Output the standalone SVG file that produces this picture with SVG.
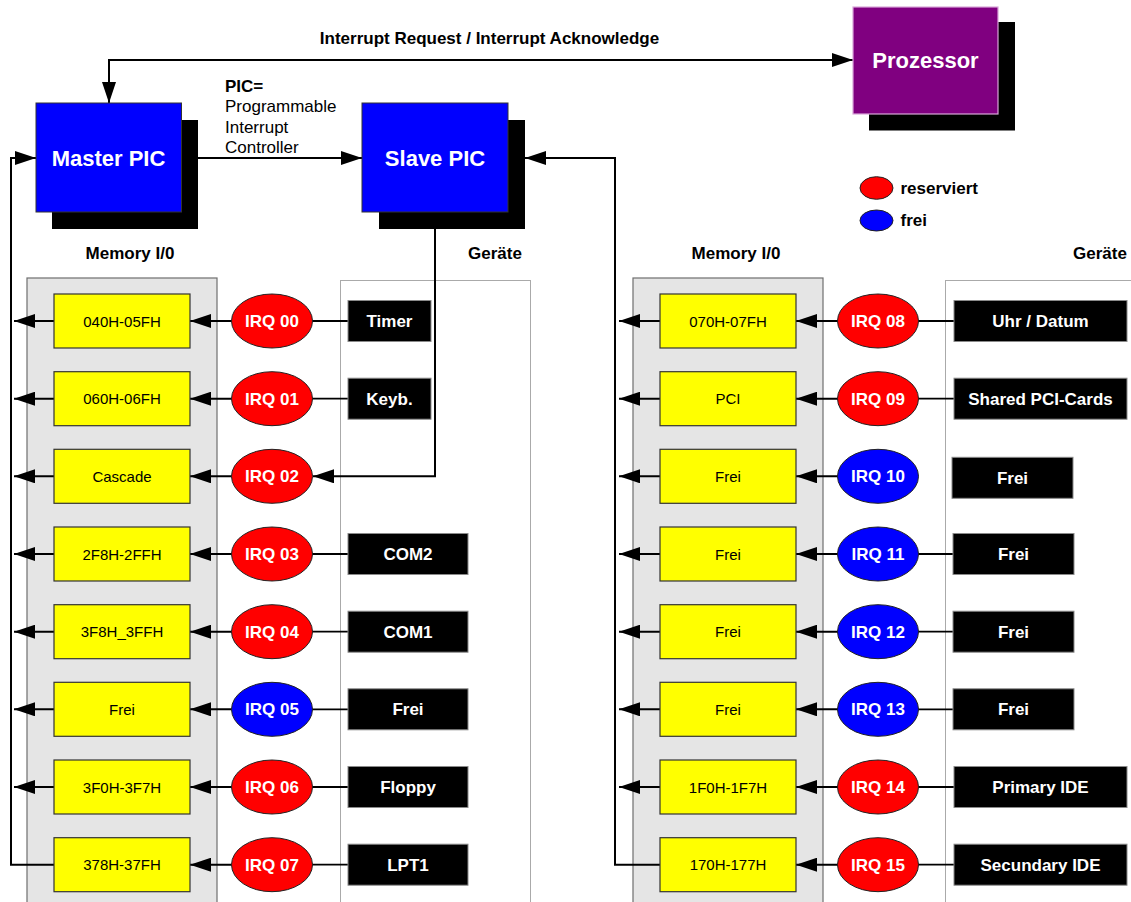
<svg xmlns="http://www.w3.org/2000/svg" width="1131" height="902" viewBox="0 0 1131 902">
  <style>
    text { font-family: "Liberation Sans", Arial, sans-serif; }
    .hdr { font-size: 17px; font-weight: bold; fill: #000; text-anchor: middle; }
    .big { font-size: 22px; font-weight: bold; fill: #fff; text-anchor: middle; }
    .note { font-size: 17px; fill: #000; }
    .mem { fill: #ffff00; stroke: #333; stroke-width: 1.2; }
    .memt { font-size: 15px; fill: #000; text-anchor: middle; }
    .irq { stroke: #222; stroke-width: 1; }
    .red { fill: #ff0000; }
    .blue { fill: #0000ff; }
    .irqt { font-size: 17px; font-weight: bold; fill: #fff; text-anchor: middle; }
    .dev { fill: #000; stroke: #8a8a8a; stroke-width: 1; }
    .devt { font-size: 17px; font-weight: bold; fill: #fff; text-anchor: middle; }
    .panel { fill: #e5e5e5; stroke: #6e6e6e; stroke-width: 1.2; }
    .zone { fill: none; stroke: #555; stroke-width: 1; stroke-dasharray: 1 1; }
    .shadow { fill: #000; }
    .pic { fill: #0000ff; stroke: #333; stroke-width: 1; }
    .cpu { fill: #800080; stroke: #d9a6d9; stroke-width: 1.2; }
    .wire { fill: none; stroke: #000; stroke-width: 2; }
    .arrow { fill: none; stroke: #000; stroke-width: 2; marker-end: url(#head); }
    .link { fill: none; stroke: #000; stroke-width: 1.8; }
  </style>
  <defs>
    <marker id="head" markerUnits="userSpaceOnUse" markerWidth="21" markerHeight="14" refX="21" refY="7" orient="auto-start-reverse">
      <path d="M0,0 L21,7 L0,14 z" fill="#000"/>
    </marker>
  </defs>

  <rect width="1131" height="902" fill="#fff"/>

  <!-- background panels: memory ranges (grey) and device zones (dotted) -->
  <g id="panels">
    <rect class="panel" x="27" y="278" width="190" height="640"/>
    <rect class="zone" x="340.5" y="280.5" width="190" height="640"/>
    <rect class="panel" x="633" y="278" width="190" height="640"/>
    <rect class="zone" x="945.5" y="280.5" width="200" height="640"/>
    <text class="hdr" x="130" y="259">Memory I/0</text>
    <text class="hdr" x="495" y="259">Geräte</text>
    <text class="hdr" x="736" y="259">Memory I/0</text>
    <text class="hdr" x="1100" y="259">Geräte</text>
  </g>

  <!-- connectors -->
  <g id="connectors">
    <!-- interrupt request / acknowledge between master PIC and processor -->
    <path class="wire" d="M109,103 L109,60 L853,60" marker-start="url(#head)" marker-end="url(#head)"/>
    <!-- master -> slave -->
    <path class="arrow" d="M198,158 L362,158"/>
    <!-- left bus into master -->
    <path class="arrow" d="M54,864.7 L11,864.7 L11,158 L36,158"/>
    <!-- right bus into slave -->
    <path class="arrow" d="M660,864.7 L615,864.7 L615,158 L525,158"/>
    <!-- cascade from slave to IRQ 02 -->
    <path class="arrow" d="M435,229 L435,476.3 L313,476.3"/>

    <!-- memory box -> bus (left) -->
    <path class="arrow" d="M54,321 L14,321"/>
    <path class="arrow" d="M54,398.7 L14,398.7"/>
    <path class="arrow" d="M54,476.3 L14,476.3"/>
    <path class="arrow" d="M54,554 L14,554"/>
    <path class="arrow" d="M54,631.7 L14,631.7"/>
    <path class="arrow" d="M54,709.3 L14,709.3"/>
    <path class="arrow" d="M54,787 L14,787"/>
    <!-- memory box -> bus (right) -->
    <path class="arrow" d="M660,321 L619,321"/>
    <path class="arrow" d="M660,398.7 L619,398.7"/>
    <path class="arrow" d="M660,476.3 L619,476.3"/>
    <path class="arrow" d="M660,554 L619,554"/>
    <path class="arrow" d="M660,631.7 L619,631.7"/>
    <path class="arrow" d="M660,709.3 L619,709.3"/>
    <path class="arrow" d="M660,787 L619,787"/>

    <!-- IRQ -> memory box (left) -->
    <path class="arrow" d="M232,321 L190,321"/>
    <path class="arrow" d="M232,398.7 L190,398.7"/>
    <path class="arrow" d="M232,476.3 L190,476.3"/>
    <path class="arrow" d="M232,554 L190,554"/>
    <path class="arrow" d="M232,631.7 L190,631.7"/>
    <path class="arrow" d="M232,709.3 L190,709.3"/>
    <path class="arrow" d="M232,787 L190,787"/>
    <path class="arrow" d="M232,864.7 L190,864.7"/>
    <!-- IRQ -> memory box (right) -->
    <path class="arrow" d="M838,321 L796,321"/>
    <path class="arrow" d="M838,398.7 L796,398.7"/>
    <path class="arrow" d="M838,476.3 L796,476.3"/>
    <path class="arrow" d="M838,554 L796,554"/>
    <path class="arrow" d="M838,631.7 L796,631.7"/>
    <path class="arrow" d="M838,709.3 L796,709.3"/>
    <path class="arrow" d="M838,787 L796,787"/>
    <path class="arrow" d="M838,864.7 L796,864.7"/>

    <!-- device -> IRQ (left) -->
    <path class="link" d="M312,321 L348,321"/>
    <path class="link" d="M312,398.7 L348,398.7"/>
    <path class="link" d="M312,554 L348,554"/>
    <path class="link" d="M312,631.7 L348,631.7"/>
    <path class="link" d="M312,709.3 L348,709.3"/>
    <path class="link" d="M312,787 L348,787"/>
    <path class="link" d="M312,864.7 L348,864.7"/>
    <!-- device -> IRQ (right) -->
    <path class="link" d="M918,321 L954,321"/>
    <path class="link" d="M918,398.7 L954,398.7"/>
    <path class="link" d="M918,554 L953,554"/>
    <path class="link" d="M918,631.7 L953,631.7"/>
    <path class="link" d="M918,709.3 L953,709.3"/>
    <path class="link" d="M918,787 L954,787"/>
    <path class="link" d="M918,864.7 L954,864.7"/>
  </g>

  <!-- controllers and processor -->
  <g id="master-pic">
    <rect class="shadow" x="52" y="120" width="146" height="109"/>
    <rect class="pic" x="36" y="103" width="145.5" height="109"/>
    <text class="big" x="108.5" y="165.5">Master PIC</text>
  </g>
  <g id="slave-pic">
    <rect class="shadow" x="379" y="120" width="146" height="109"/>
    <rect class="pic" x="362" y="103" width="146" height="109"/>
    <text class="big" x="435" y="165.5">Slave PIC</text>
  </g>
  <g id="prozessor">
    <rect class="shadow" x="869" y="22" width="146" height="108.5"/>
    <rect class="cpu" x="853" y="7" width="145" height="107"/>
    <text class="big" x="925.5" y="68">Prozessor</text>
  </g>

  <g id="labels">
    <text class="hdr" x="489.5" y="44">Interrupt Request / Interrupt Acknowledge</text>
    <text class="note" x="225" y="92" font-weight="bold">PIC=</text>
    <text class="note" x="225" y="112">Programmable</text>
    <text class="note" x="225" y="132.5">Interrupt</text>
    <text class="note" x="225" y="153">Controller</text>
  </g>

  <g id="legend">
    <ellipse class="irq red" cx="876.5" cy="188" rx="16.5" ry="11.3"/>
    <text x="900.5" y="193.5" font-size="17" font-weight="bold">reserviert</text>
    <ellipse class="irq blue" cx="876.5" cy="220.5" rx="16.5" ry="10.5"/>
    <text x="900.5" y="226" font-size="17" font-weight="bold">frei</text>
  </g>

  <!-- IRQ lines 0-7 (master) -->
  <g id="irq00">
    <rect class="mem" x="54" y="294" width="136" height="54"/><text class="memt" x="122" y="326.5">040H-05FH</text>
    <ellipse class="irq red" cx="272" cy="321" rx="40.5" ry="27"/><text class="irqt" x="272" y="327">IRQ 00</text>
    <rect class="dev" x="348" y="300.5" width="83" height="41"/><text class="devt" x="389.5" y="327">Timer</text>
  </g>
  <g id="irq01">
    <rect class="mem" x="54" y="371.7" width="136" height="54"/><text class="memt" x="122" y="404.2">060H-06FH</text>
    <ellipse class="irq red" cx="272" cy="398.7" rx="40.5" ry="27"/><text class="irqt" x="272" y="404.7">IRQ 01</text>
    <rect class="dev" x="348" y="378.2" width="83" height="41"/><text class="devt" x="389.5" y="404.7">Keyb.</text>
  </g>
  <g id="irq02">
    <rect class="mem" x="54" y="449.3" width="136" height="54"/><text class="memt" x="122" y="481.8">Cascade</text>
    <ellipse class="irq red" cx="272" cy="476.3" rx="40.5" ry="27"/><text class="irqt" x="272" y="482.3">IRQ 02</text>
  </g>
  <g id="irq03">
    <rect class="mem" x="54" y="527" width="136" height="54"/><text class="memt" x="122" y="559.5">2F8H-2FFH</text>
    <ellipse class="irq red" cx="272" cy="554" rx="40.5" ry="27"/><text class="irqt" x="272" y="560">IRQ 03</text>
    <rect class="dev" x="348" y="533.5" width="120" height="41"/><text class="devt" x="408" y="560">COM2</text>
  </g>
  <g id="irq04">
    <rect class="mem" x="54" y="604.7" width="136" height="54"/><text class="memt" x="122" y="637.2">3F8H_3FFH</text>
    <ellipse class="irq red" cx="272" cy="631.7" rx="40.5" ry="27"/><text class="irqt" x="272" y="637.7">IRQ 04</text>
    <rect class="dev" x="348" y="611.2" width="120" height="41"/><text class="devt" x="408" y="637.7">COM1</text>
  </g>
  <g id="irq05">
    <rect class="mem" x="54" y="682.3" width="136" height="54"/><text class="memt" x="122" y="714.8">Frei</text>
    <ellipse class="irq blue" cx="272" cy="709.3" rx="40.5" ry="27"/><text class="irqt" x="272" y="715.3">IRQ 05</text>
    <rect class="dev" x="348" y="688.8" width="120" height="41"/><text class="devt" x="408" y="715.3">Frei</text>
  </g>
  <g id="irq06">
    <rect class="mem" x="54" y="760" width="136" height="54"/><text class="memt" x="122" y="792.5">3F0H-3F7H</text>
    <ellipse class="irq red" cx="272" cy="787" rx="40.5" ry="27"/><text class="irqt" x="272" y="793">IRQ 06</text>
    <rect class="dev" x="348" y="766.5" width="120" height="41"/><text class="devt" x="408" y="793">Floppy</text>
  </g>
  <g id="irq07">
    <rect class="mem" x="54" y="837.7" width="136" height="54"/><text class="memt" x="122" y="870.2">378H-37FH</text>
    <ellipse class="irq red" cx="272" cy="864.7" rx="40.5" ry="27"/><text class="irqt" x="272" y="870.7">IRQ 07</text>
    <rect class="dev" x="348" y="844.2" width="120" height="41"/><text class="devt" x="408" y="870.7">LPT1</text>
  </g>

  <!-- IRQ lines 8-15 (slave) -->
  <g id="irq08">
    <rect class="mem" x="660" y="294" width="136" height="54"/><text class="memt" x="728" y="326.5">070H-07FH</text>
    <ellipse class="irq red" cx="878" cy="321" rx="40.5" ry="27"/><text class="irqt" x="878" y="327">IRQ 08</text>
    <rect class="dev" x="954" y="300.5" width="173" height="41"/><text class="devt" x="1040.5" y="327">Uhr / Datum</text>
  </g>
  <g id="irq09">
    <rect class="mem" x="660" y="371.7" width="136" height="54"/><text class="memt" x="728" y="404.2">PCI</text>
    <ellipse class="irq red" cx="878" cy="398.7" rx="40.5" ry="27"/><text class="irqt" x="878" y="404.7">IRQ 09</text>
    <rect class="dev" x="954" y="378.2" width="173" height="41"/><text class="devt" x="1040.5" y="404.7">Shared PCI-Cards</text>
  </g>
  <g id="irq10">
    <rect class="mem" x="660" y="449.3" width="136" height="54"/><text class="memt" x="728" y="481.8">Frei</text>
    <ellipse class="irq blue" cx="878" cy="476.3" rx="40.5" ry="27"/><text class="irqt" x="878" y="482.3">IRQ 10</text>
    <rect class="dev" x="952" y="457.3" width="121" height="41"/><text class="devt" x="1012.5" y="483.8">Frei</text>
  </g>
  <g id="irq11">
    <rect class="mem" x="660" y="527" width="136" height="54"/><text class="memt" x="728" y="559.5">Frei</text>
    <ellipse class="irq blue" cx="878" cy="554" rx="40.5" ry="27"/><text class="irqt" x="878" y="560">IRQ 11</text>
    <rect class="dev" x="953" y="533.5" width="121" height="41"/><text class="devt" x="1013.5" y="560">Frei</text>
  </g>
  <g id="irq12">
    <rect class="mem" x="660" y="604.7" width="136" height="54"/><text class="memt" x="728" y="637.2">Frei</text>
    <ellipse class="irq blue" cx="878" cy="631.7" rx="40.5" ry="27"/><text class="irqt" x="878" y="637.7">IRQ 12</text>
    <rect class="dev" x="953" y="611.2" width="121" height="41"/><text class="devt" x="1013.5" y="637.7">Frei</text>
  </g>
  <g id="irq13">
    <rect class="mem" x="660" y="682.3" width="136" height="54"/><text class="memt" x="728" y="714.8">Frei</text>
    <ellipse class="irq blue" cx="878" cy="709.3" rx="40.5" ry="27"/><text class="irqt" x="878" y="715.3">IRQ 13</text>
    <rect class="dev" x="953" y="688.8" width="121" height="41"/><text class="devt" x="1013.5" y="715.3">Frei</text>
  </g>
  <g id="irq14">
    <rect class="mem" x="660" y="760" width="136" height="54"/><text class="memt" x="728" y="792.5">1F0H-1F7H</text>
    <ellipse class="irq red" cx="878" cy="787" rx="40.5" ry="27"/><text class="irqt" x="878" y="793">IRQ 14</text>
    <rect class="dev" x="954" y="766.5" width="173" height="41"/><text class="devt" x="1040.5" y="793">Primary IDE</text>
  </g>
  <g id="irq15">
    <rect class="mem" x="660" y="837.7" width="136" height="54"/><text class="memt" x="728" y="870.2">170H-177H</text>
    <ellipse class="irq red" cx="878" cy="864.7" rx="40.5" ry="27"/><text class="irqt" x="878" y="870.7">IRQ 15</text>
    <rect class="dev" x="954" y="844.2" width="173" height="41"/><text class="devt" x="1040.5" y="870.7">Secundary IDE</text>
  </g>
</svg>
